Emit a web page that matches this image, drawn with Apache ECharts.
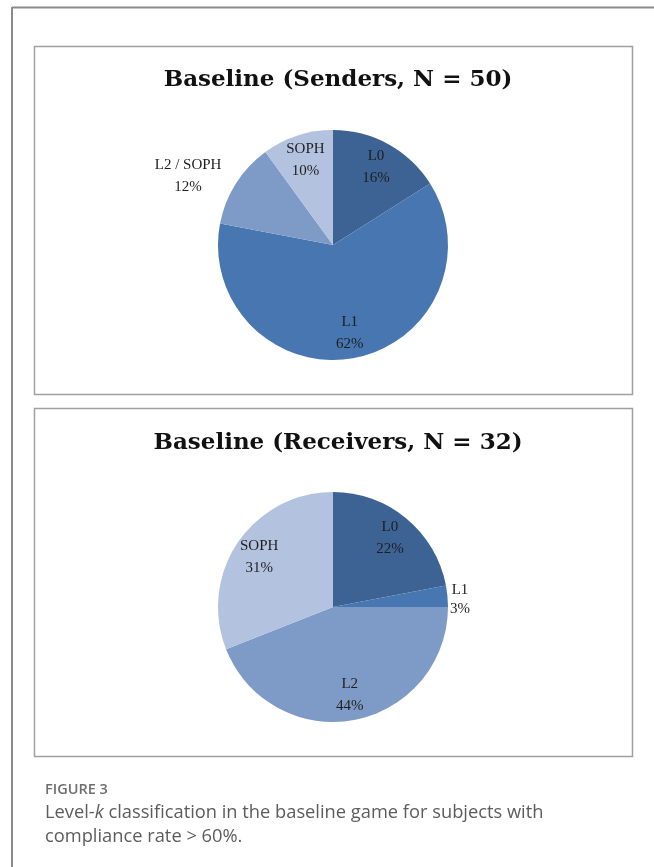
<!DOCTYPE html>
<html>
<head>
<meta charset="utf-8">
<script src="https://cdn.jsdelivr.net/npm/echarts/dist/echarts.min.js"></script>
<style>
  html, body { margin: 0; padding: 0; background: #fff; }
  #chart { position: absolute; left: 0; top: 0; width: 654px; height: 867px; }
  .cap { position: absolute; left: 45px; font-family: "Open Sans", "Noto Sans", sans-serif; }
</style>
</head>
<body>
<div id="chart"></div>
<div class="cap" style="top:779px;font-size:14.5px;font-weight:600;color:#6e6e6e;">FIGURE 3</div>
<div class="cap" style="top:799px;font-size:18.3px;line-height:24px;color:#5c5c5c;width:600px;">Level-<i>k</i> classification in the baseline game for subjects with<br>compliance rate &gt; 60%.</div>
<script>
// Level-k shares (percent) per group
const senderCategories = ['L0', 'L1', 'L2 / SOPH', 'SOPH'];
const senderShares = [16, 62, 12, 10];
const receiverCategories = ['L0', 'L1', 'L2', 'SOPH'];
const receiverShares = [22, 3, 44, 31];
const panelTitles = ['Baseline (Senders, N = 50)', 'Baseline (Receivers, N = 32)'];

// slice colours, in category order
const sliceColors = ['#3c6394', '#4776b0', '#7e9bc8', '#b3c2df'];

const serif = '"Liberation Serif", "DejaVu Serif", serif';
const labelText = { fontFamily: serif, fontSize: 15, color: '#1e1e1e', lineHeight: 22 };

// panel geometry
const panels = [
  { cats: senderCategories, vals: senderShares, center: [333, 245], box: [34, 46, 598, 348], titleTop: 64,
    outside: { 'L2 / SOPH': { length: 14, length2: 0, width: 72, lineHeight: 22, padding: 0 } } },
  { cats: receiverCategories, vals: receiverShares, center: [333, 607], box: [34, 408, 598, 348], titleTop: 427,
    outside: { 'L1': { length: 2, length2: 0, width: 21, lineHeight: 19, padding: [7, 0, 0, 0] } } }
];
const R = 115;

const series = [];
const titles = [];
const graphics = [
  // outer frame lines
  { type: 'line', shape: { x1: 12, y1: 7.5, x2: 654, y2: 7.5 }, style: { stroke: '#8a8a8a', lineWidth: 2 } },
  { type: 'line', shape: { x1: 12, y1: 7, x2: 12, y2: 867 }, style: { stroke: '#8a8a8a', lineWidth: 2 } }
];

panels.forEach((p, i) => {
  graphics.push({ type: 'rect', shape: { x: p.box[0] + 0.5, y: p.box[1] + 0.5, width: p.box[2], height: p.box[3] },
    style: { fill: 'none', stroke: '#a0a0a0', lineWidth: 1.5 } });
  titles.push({ text: panelTitles[i], left: 333, top: p.titleTop, textAlign: 'center',
    textStyle: { fontFamily: '"DejaVu Serif", serif', fontSize: 23, fontWeight: 'bold', color: '#111' } });

  // slices, with the labels that sit outside the pie
  series.push({
    type: 'pie', center: p.center, radius: R, startAngle: 90, clockwise: true,
    avoidLabelOverlap: false, silent: true, animation: false,
    itemStyle: { borderWidth: 0 },
    label: { show: false },
    labelLine: { show: false },
    data: p.cats.map((c, k) => {
      const o = p.outside[c];
      const item = { name: c, value: p.vals[k], itemStyle: { color: sliceColors[k] } };
      if (o) {
        item.label = {
          show: true, position: 'outside', distanceToLabelLine: 0, padding: o.padding,
          formatter: (q) => `{t|${q.name}}\n{t|${q.value}%}`,
          rich: { t: Object.assign({}, labelText, { width: o.width, align: 'center', lineHeight: o.lineHeight }) }
        };
        item.labelLine = { show: false, length: o.length, length2: o.length2 };
      }
      return item;
    })
  });

  // transparent ring that carries the inner labels at three quarters of the radius
  series.push({
    type: 'pie', center: p.center, radius: [R / 2, R], startAngle: 90, clockwise: true,
    avoidLabelOverlap: false, silent: true, animation: false,
    itemStyle: { color: 'transparent', borderWidth: 0 },
    label: Object.assign({ show: true, position: 'inside', formatter: '{b}\n{c}%' }, labelText),
    labelLine: { show: false },
    data: p.cats.map((c, k) => ({ name: c, value: p.vals[k], label: { show: !p.outside[c] } }))
  });
});

const chart = echarts.init(document.getElementById('chart'), null, { renderer: 'canvas' });
chart.setOption({
  backgroundColor: '#fff',
  animation: false,
  title: titles,
  graphic: graphics,
  series: series
});
</script>
</body>
</html>
